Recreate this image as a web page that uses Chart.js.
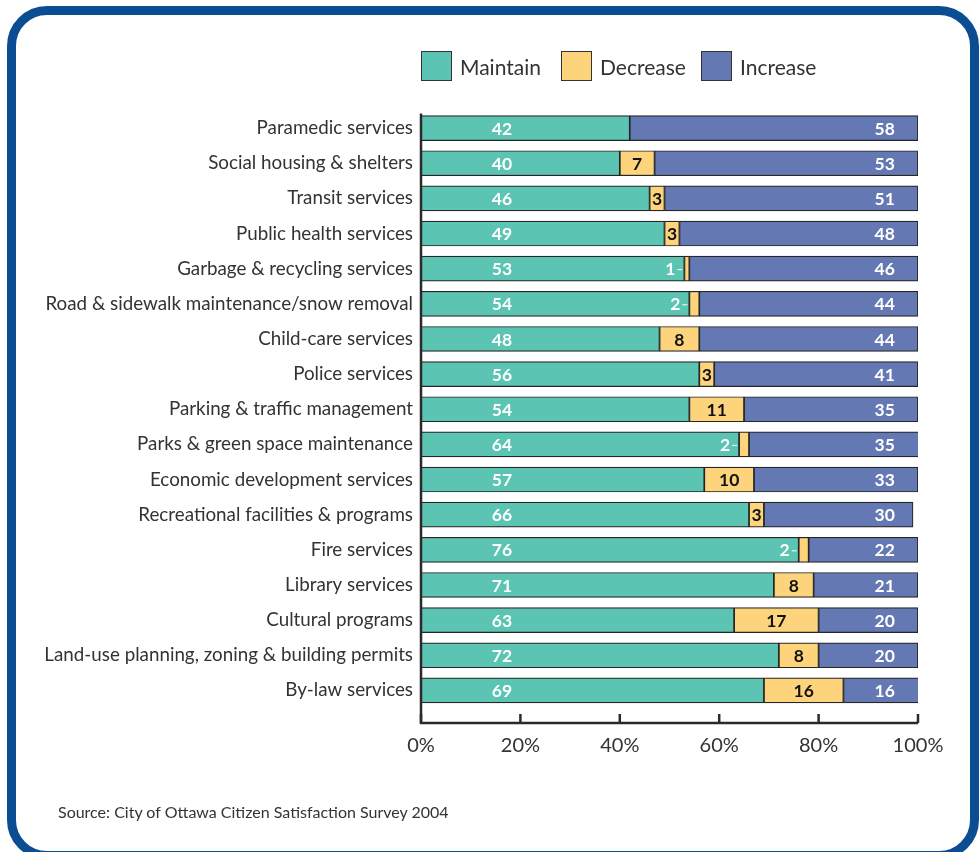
<!DOCTYPE html>
<html lang="en">
  <head>
    <meta charset="UTF-8" />
    <title>City services: maintain, decrease or increase</title>
    <script src="https://cdn.jsdelivr.net/npm/chart.js@4.4.1/dist/chart.umd.min.js"></script>
    <style>
      html, body {
        margin: 0;
        padding: 0;
        background: #fff;
        width: 980px;
        height: 852px;
        overflow: hidden;
        font-family: Lato, "Open Sans", sans-serif;
      }
      .frame {
        position: absolute;
        left: 7px;
        top: 6px;
        width: 954px;
        height: 836px;
        border: 9px solid #0b4d93;
        border-radius: 40px;
        pointer-events: none;
      }
      #chart {
        position: absolute;
        left: 0;
        top: 0;
      }
      .legend {
        position: absolute;
        top: 51px;
        left: 421px;
        display: flex;
        align-items: center;
        font-size: 21px;
        color: #333;
      }
      .legend span.box {
        display: inline-block;
        width: 31px;
        height: 30px;
        border: 1.5px solid #333;
        box-sizing: border-box;
        margin-right: 8px;
      }
      .legend .item {
        display: flex;
        align-items: center;
        width: 140px;
      }
      .source {
        position: absolute;
        left: 58px;
        top: 802px;
        font-size: 16px;
        color: #333;
      }
    </style>
  </head>
  <body>
    <canvas id="chart" width="980" height="852"></canvas>
    <div class="legend" id="legend"></div>
    <div class="source">Source: City of Ottawa Citizen Satisfaction Survey 2004</div>
    <div class="frame"></div>

    <script>
      const services = [
        "Paramedic services",
        "Social housing & shelters",
        "Transit services",
        "Public health services",
        "Garbage & recycling services",
        "Road & sidewalk maintenance/snow removal",
        "Child-care services",
        "Police services",
        "Parking & traffic management",
        "Parks & green space maintenance",
        "Economic development services",
        "Recreational facilities & programs",
        "Fire services",
        "Library services",
        "Cultural programs",
        "Land-use planning, zoning & building permits",
        "By-law services"
      ];
      const maintain = [42, 40, 46, 49, 53, 54, 48, 56, 54, 64, 57, 66, 76, 71, 63, 72, 69];
      const decrease = [0, 7, 3, 3, 1, 2, 8, 3, 11, 2, 10, 3, 2, 8, 17, 8, 16];
      const increase = [58, 53, 51, 48, 46, 44, 44, 41, 35, 35, 33, 30, 22, 21, 20, 20, 16];
      const percentTicks = [0, 20, 40, 60, 80, 100];

      const colors = {
        Maintain: "#5cc4b2",
        Decrease: "#fdd47b",
        Increase: "#6479b3"
      };
      const edge = "#262626";
      const font = "Lato, 'Open Sans', sans-serif";

      // legend boxes
      const legend = document.getElementById("legend");
      Object.keys(colors).forEach((name) => {
        const item = document.createElement("div");
        item.className = "item";
        item.innerHTML =
          '<span class="box" style="background:' + colors[name] + '"></span>' + name;
        legend.appendChild(item);
      });

      // axis lines with inward ticks, plus value labels on the bars
      const decorations = {
        id: "decorations",
        afterDatasetsDraw(chart) {
          const ctx = chart.ctx;
          const xs = chart.scales.x;
          const area = chart.chartArea;
          const axisY = area.bottom + 15;

          ctx.save();
          ctx.strokeStyle = "#2a2a2a";
          ctx.lineWidth = 2.5;
          ctx.beginPath();
          ctx.moveTo(area.left, area.top + 3);
          ctx.lineTo(area.left, axisY);
          ctx.lineTo(area.right, axisY);
          ctx.stroke();
          percentTicks.forEach((v) => {
            const px = xs.getPixelForValue(v);
            ctx.beginPath();
            ctx.moveTo(px, axisY - 9);
            ctx.lineTo(px, axisY);
            ctx.stroke();
          });

          const mMeta = chart.getDatasetMeta(0);
          const dMeta = chart.getDatasetMeta(1);
          ctx.font = "bold 17.5px " + font;
          ctx.textBaseline = "middle";

          services.forEach((s, i) => {
            const y = mMeta.data[i].y + 1;

            ctx.fillStyle = "#fff";
            ctx.textAlign = "center";
            ctx.fillText(String(maintain[i]), xs.getPixelForValue(16.3), y);
            ctx.fillText(String(increase[i]), xs.getPixelForValue(93.3), y);

            const d = decrease[i];
            if (!d) return;
            const bar = dMeta.data[i];
            const start = Math.min(bar.base, bar.x);
            const end = Math.max(bar.base, bar.x);
            if (d >= 3) {
              ctx.fillStyle = "#111";
              ctx.textAlign = "center";
              ctx.fillText(String(d), (start + end) / 2, y);
            } else {
              ctx.fillStyle = "#fff";
              ctx.textAlign = "right";
              ctx.fillText(String(d), start - 9, y);
              ctx.strokeStyle = "#fff";
              ctx.lineWidth = 1;
              ctx.beginPath();
              ctx.moveTo(start - 7, y);
              ctx.lineTo(start - 2, y);
              ctx.stroke();
            }
          });
          ctx.restore();
        }
      };

      const makeSet = (label, data) => ({
        label: label,
        data: data,
        backgroundColor: colors[label],
        borderColor: edge,
        borderWidth: 1.2,
        borderSkipped: false,
        barThickness: 25
      });

      new Chart(document.getElementById("chart"), {
        type: "bar",
        data: {
          labels: services,
          datasets: [
            makeSet("Maintain", maintain),
            makeSet("Decrease", decrease),
            makeSet("Increase", increase)
          ]
        },
        options: {
          indexAxis: "y",
          responsive: false,
          animation: false,
          layout: {
            padding: { left: 0, top: 110.5, right: 62, bottom: 84 }
          },
          plugins: {
            legend: { display: false },
            tooltip: { enabled: false }
          },
          scales: {
            x: {
              stacked: true,
              min: 0,
              max: 100,
              afterFit(scale) {
                scale.height = 60;
              },
              afterBuildTicks(scale) {
                scale.ticks = percentTicks.map((v) => ({ value: v }));
              },
              grid: { display: false, drawTicks: false },
              border: { display: false },
              ticks: {
                padding: 26,
                color: "#333",
                font: { family: font, size: 20 },
                callback: (v) => v + "%"
              }
            },
            y: {
              stacked: true,
              afterFit(scale) {
                scale.width = 421;
              },
              grid: { display: false, drawTicks: false },
              border: { display: false },
              ticks: {
                padding: 8,
                color: "#333",
                font: { family: font, size: 18.8 }
              }
            }
          }
        },
        plugins: [decorations]
      });
    </script>
  </body>
</html>
